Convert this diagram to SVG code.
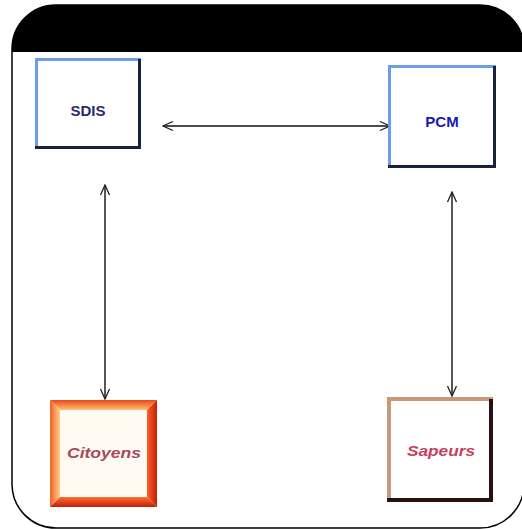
<svg xmlns="http://www.w3.org/2000/svg" width="522" height="529" viewBox="0 0 522 529">
<style>
.lbl{font-family:"Liberation Sans",Arial,sans-serif;font-size:15px;font-weight:bold;text-anchor:middle;dominant-baseline:central}
.it{font-style:italic;font-size:15px}
.conn{stroke:#111;stroke-width:1.4;fill:none;marker-start:url(#ah);marker-end:url(#ah)}
</style>
<defs>
<marker id="ah" viewBox="0 0 12 12" refX="11" refY="6" markerWidth="12" markerHeight="12" markerUnits="userSpaceOnUse" orient="auto-start-reverse">
<path d="M1,1.5 L11,6 L1,10.5" fill="none" stroke="#222" stroke-width="1.3"/>
</marker>
<clipPath id="outer"><rect x="12" y="5" width="512" height="523" rx="44"/></clipPath>
<linearGradient id="ot" x1="0" y1="0" x2="0" y2="1"><stop offset="0" stop-color="#e84818"/><stop offset="1" stop-color="#ffc070"/></linearGradient>
<linearGradient id="ol" x1="0" y1="0" x2="1" y2="0"><stop offset="0" stop-color="#f06020"/><stop offset="1" stop-color="#ffd090"/></linearGradient>
<linearGradient id="ob" x1="0" y1="0" x2="0" y2="1"><stop offset="0" stop-color="#ff7030"/><stop offset="1" stop-color="#c02008"/></linearGradient>
<linearGradient id="or" x1="0" y1="0" x2="1" y2="0"><stop offset="0" stop-color="#ff6028"/><stop offset="1" stop-color="#c02008"/></linearGradient>
</defs>
<g id="frame">
<rect x="12" y="5" width="512" height="523" rx="44" fill="#fff"/>
<rect x="0" y="0" width="522" height="52" fill="#000" clip-path="url(#outer)"/>
<rect x="12" y="5" width="512" height="523" rx="44" fill="none" stroke="#000" stroke-width="1.5"/>
</g>
<g id="connectors">
<line class="conn" x1="163" y1="126" x2="390" y2="126"/>
<line class="conn" x1="105" y1="185" x2="105" y2="399"/>
<line class="conn" x1="452" y1="192" x2="452" y2="396"/>
</g>
<g id="SDIS">
<rect x="35" y="58" width="106" height="91" fill="#fff"/>
<path d="M36.5,149 V59.5 H141" fill="none" stroke="#6a9ee8" stroke-width="3"/>
<path d="M139.5,59 V147.5 H35" fill="none" stroke="#1a2040" stroke-width="3"/>
<text class="lbl" x="88" y="110" fill="#2a2a70">SDIS</text>
</g>
<g id="PCM">
<rect x="388" y="65" width="108" height="103" fill="#fff"/>
<path d="M389.5,168 V66.5 H496" fill="none" stroke="#6a9ee8" stroke-width="3"/>
<path d="M494.5,66 V166.5 H388" fill="none" stroke="#1a2040" stroke-width="3"/>
<text class="lbl" x="442" y="121" fill="#1a1ab0">PCM</text>
</g>
<g id="Citoyens">
<rect x="50" y="400" width="107" height="107" fill="#fffaf2"/>
<polygon points="50,400 157,400 147,410 60,410" fill="url(#ot)"/>
<polygon points="50,400 60,410 60,497 50,507" fill="url(#ol)"/>
<polygon points="50,507 60,497 147,497 157,507" fill="url(#ob)"/>
<polygon points="157,400 157,507 147,497 147,410" fill="url(#or)"/>
<text class="lbl it" x="104" y="452" fill="#a84860" textLength="74" lengthAdjust="spacingAndGlyphs">Citoyens</text>
</g>
<g id="Sapeurs">
<rect x="387" y="397" width="106" height="105" fill="#fff"/>
<path d="M389,502 V399 H493" fill="none" stroke="#c89878" stroke-width="4"/>
<path d="M491,399 V500 H387" fill="none" stroke="#2a1010" stroke-width="4"/>
<text class="lbl it" x="441" y="450" fill="#c84060" textLength="68" lengthAdjust="spacingAndGlyphs">Sapeurs</text>
</g>
</svg>
